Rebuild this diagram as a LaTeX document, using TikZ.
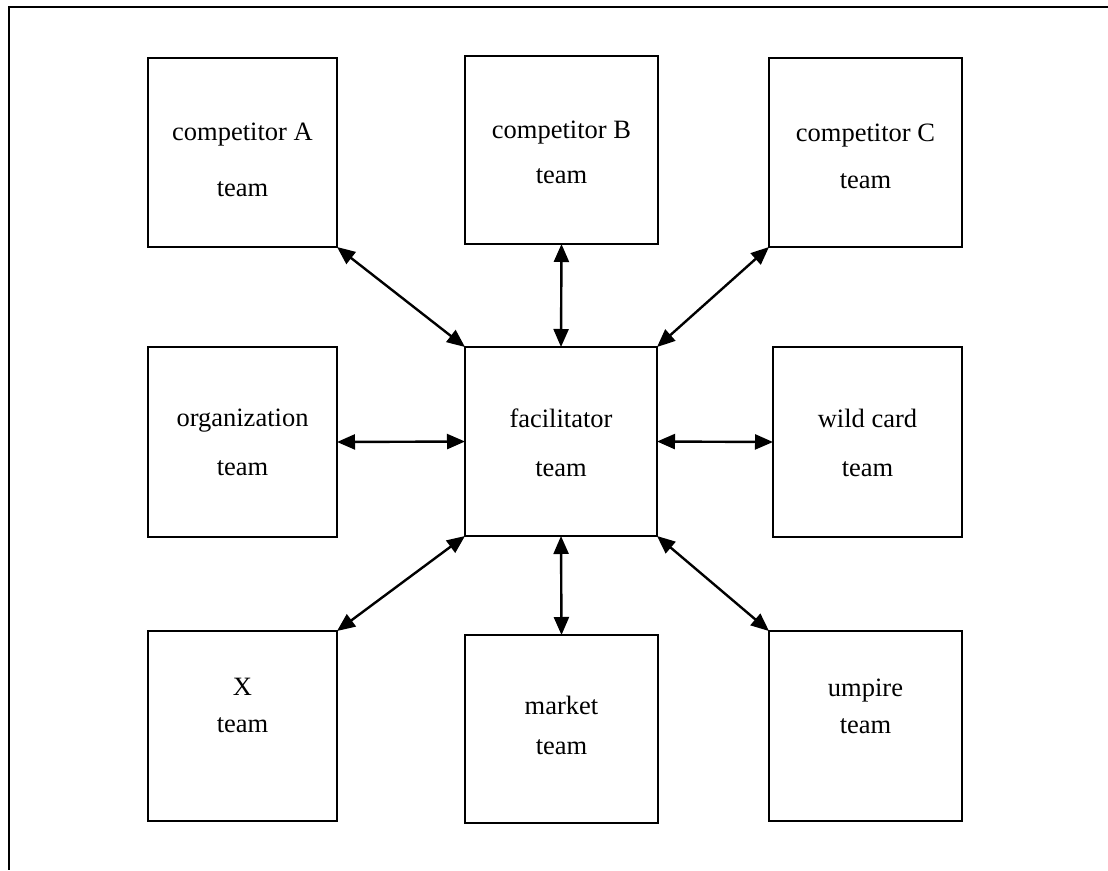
\documentclass[tikz,border=0pt]{standalone}
\usepackage{fontspec}
\setmainfont{Liberation Serif}
\usetikzlibrary{arrows.meta}
\begin{document}
\begin{tikzpicture}[x=1pt,y=-1pt,
  teambox/.style={draw, line width=2pt, rectangle, outer sep=0pt, inner sep=0pt},
  lbl/.style={align=center, inner sep=0pt},
  link/.style={line width=2.4pt, {Triangle[length=18pt,width=15pt]}-{Triangle[length=18pt,width=15pt]}},
  frame/.style={line width=2pt}]
\useasboundingbox (0,0) rectangle (1108,870);
% frame edges
\coordinate (ftl) at (8.5,6.5);
\coordinate (ftr) at (1108,6.5);
\coordinate (fbl) at (8.5,870);
\draw[frame] (ftr) -- (ftl) -- (fbl);
% team boxes
\node[teambox, minimum width=189pt, minimum height=189pt] (ca) at (242.5,152.5) {};
\node[teambox, minimum width=193pt, minimum height=188pt] (cb) at (561.5,150) {};
\node[teambox, minimum width=193pt, minimum height=189pt] (cc) at (865.5,152.5) {};
\node[teambox, minimum width=189pt, minimum height=190pt] (org) at (242.5,442) {};
\node[teambox, minimum width=192pt, minimum height=189pt] (fac) at (561,441.5) {};
\node[teambox, minimum width=189pt, minimum height=190pt] (wild) at (867.5,442) {};
\node[teambox, minimum width=189pt, minimum height=190pt] (x) at (242.5,726) {};
\node[teambox, minimum width=193pt, minimum height=188pt] (mkt) at (561.5,729) {};
\node[teambox, minimum width=193pt, minimum height=190pt] (ump) at (865.5,726) {};
% labels
\node[lbl, font=\fontsize{26.5pt}{56pt}\selectfont] (ca-t) at (242.5,160) {competitor A\\team};
\node[lbl, font=\fontsize{26.5pt}{45pt}\selectfont] (cb-t) at (561.5,152.5) {competitor B\\team};
\node[lbl, font=\fontsize{26.5pt}{47pt}\selectfont] (cc-t) at (865.5,156.5) {competitor C\\team};
\node[lbl, font=\fontsize{26.5pt}{49pt}\selectfont] (org-t) at (242.5,442.5) {organization\\team};
\node[lbl, font=\fontsize{26.5pt}{49pt}\selectfont] (fac-t) at (561,442.5) {facilitator\\team};
\node[lbl, font=\fontsize{26.5pt}{49pt}\selectfont] (wild-t) at (867.5,442.5) {wild card\\team};
\node[lbl, font=\fontsize{26.5pt}{37pt}\selectfont] (x-t) at (242.5,705) {X\\team};
\node[lbl, font=\fontsize{26.5pt}{40pt}\selectfont] (mkt-t) at (561.5,725) {market\\team};
\node[lbl, font=\fontsize{26.5pt}{37pt}\selectfont] (ump-t) at (865.5,706) {umpire\\team};
% connectors
\draw[link] (ca.south east) -- (fac.north west);
\draw[link] (cb.south) -- (fac.north);
\draw[link] (cc.south west) -- (fac.north east);
\draw[link] (org.east) -- (fac.west);
\draw[link] (fac.east) -- (wild.west);
\draw[link] (x.north east) -- (fac.south west);
\draw[link] (mkt.north) -- (fac.south);
\draw[link] (ump.north west) -- (fac.south east);
\end{tikzpicture}
\end{document}
